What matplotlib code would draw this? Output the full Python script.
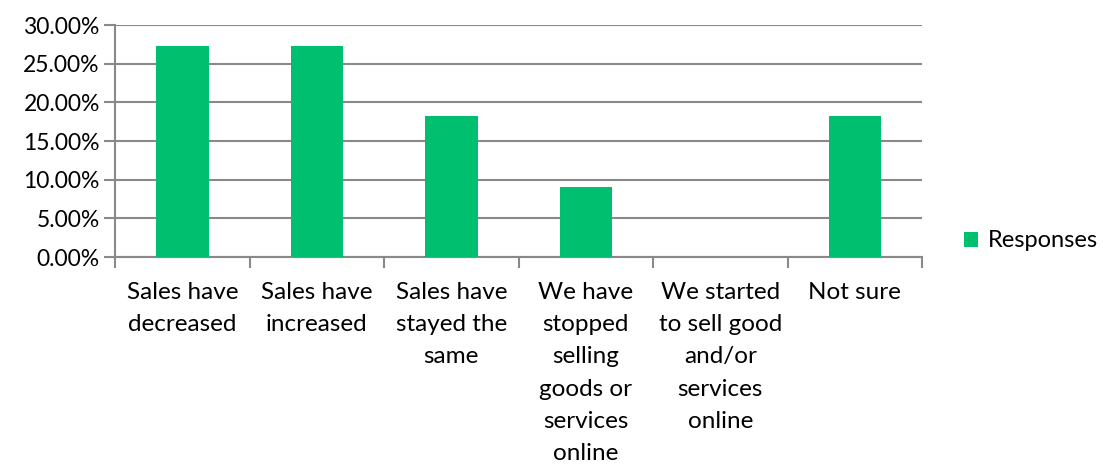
import matplotlib.pyplot as plt
import numpy as np
from matplotlib.ticker import FuncFormatter, FixedLocator

plt.rcParams['font.family'] = ['Lato', 'DejaVu Sans']

categories = ["Sales have\ndecreased", "Sales have\nincreased", "Sales have\nstayed the\nsame",
              "We have\nstopped\nselling\ngoods or\nservices\nonline",
              "We started\nto sell good\nand/or\nservices\nonline", "Not sure"]
responses = [0.2727, 0.2727, 0.1818, 0.0909, 0.0, 0.1818]

bar_color = '#00BF6F'
grid_color = '#898989'

fig = plt.figure(figsize=(11.03, 4.65), dpi=100)
ax = fig.add_axes([0.1043, 0.4473, 0.7316, 0.4989])

x = np.arange(len(categories))
bars = ax.bar(x, responses, width=0.39, color=bar_color, zorder=3, label='Responses')

ax.set_xlim(-0.5, len(categories) - 0.5)
ax.set_ylim(0, 0.30)
ax.set_yticks(np.arange(0, 0.301, 0.05))
ax.yaxis.set_major_formatter(FuncFormatter(lambda v, p: f"{v*100:.2f}%"))
ax.grid(axis='y', color=grid_color, linewidth=1.5, zorder=0)

ax.set_xticks(x)
ax.set_xticklabels(categories, fontsize=17.5, linespacing=1.66)
ax.xaxis.set_minor_locator(FixedLocator(np.arange(-0.5, len(categories), 1.0)))
ax.tick_params(axis='x', which='major', length=0, pad=18)
ax.tick_params(axis='x', which='minor', length=8, width=1.5, color=grid_color)
ax.tick_params(axis='y', length=8, width=1.5, color=grid_color, labelsize=16.5, pad=3)

for s in ['top', 'right']:
    ax.spines[s].set_visible(False)
for s in ['left', 'bottom']:
    ax.spines[s].set_color(grid_color)
    ax.spines[s].set_linewidth(1.5)

fig.legend(handles=[bars], labels=['Responses'], loc='center left',
           bbox_to_anchor=(0.874, 0.482), frameon=False, fontsize=17,
           handlelength=0.6, handleheight=0.6, handletextpad=0.4,
           borderpad=0, borderaxespad=0)

fig.savefig('out.png', dpi=100)
